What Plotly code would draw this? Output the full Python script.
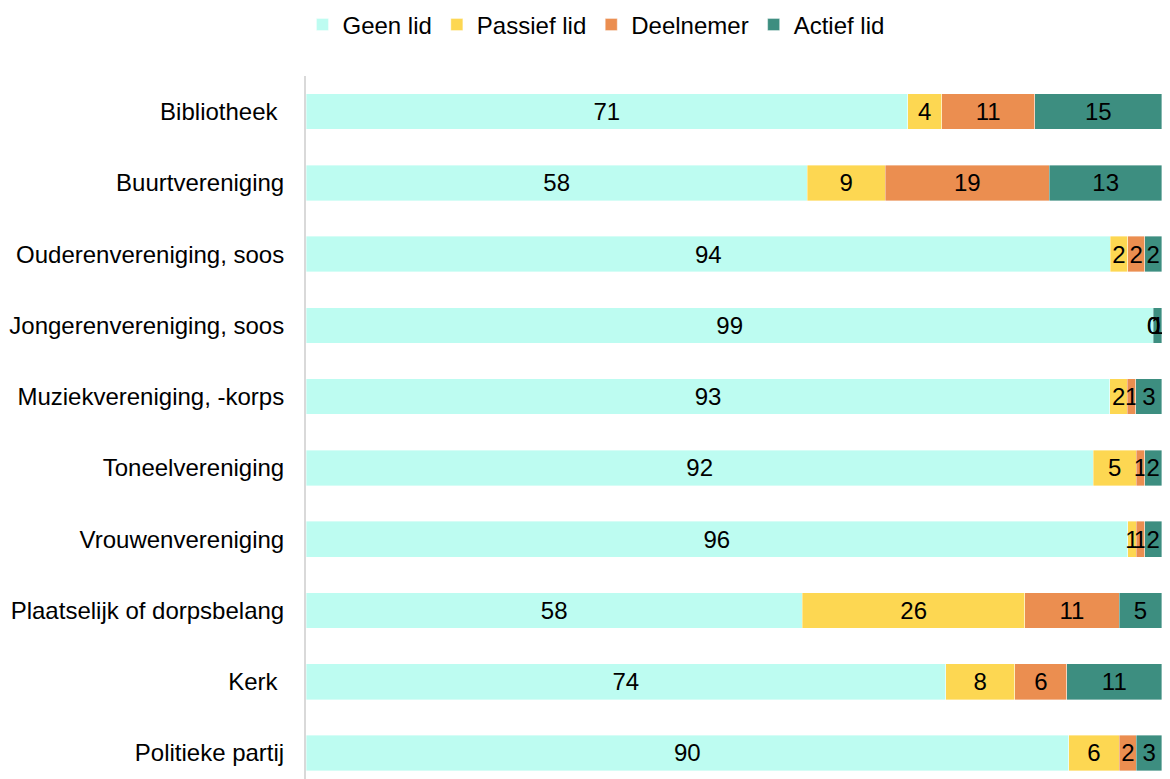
import plotly.graph_objects as go

categories = [
    "Bibliotheek ",
    "Buurtvereniging",
    "Ouderenvereniging, soos",
    "Jongerenvereniging, soos",
    "Muziekvereniging, -korps",
    "Toneelvereniging",
    "Vrouwenvereniging",
    "Plaatselijk of dorpsbelang",
    "Kerk ",
    "Politieke partij",
]

geen_lid = [71, 58, 94, 99, 93, 92, 96, 58, 74, 90]
passief_lid = [4, 9, 2, 0, 2, 5, 1, 26, 8, 6]
deelnemer = [11, 19, 2, 0, 1, 1, 1, 11, 6, 2]
actief_lid = [15, 13, 2, 1, 3, 2, 2, 5, 11, 3]

series = [
    ("Geen lid", geen_lid, "#BDFCF1"),
    ("Passief lid", passief_lid, "#FDD752"),
    ("Deelnemer", deelnemer, "#EB8E50"),
    ("Actief lid", actief_lid, "#3D8E80"),
]

fig = go.Figure()
for name, vals, color in series:
    fig.add_trace(go.Bar(
        y=categories, x=vals, name=name, orientation="h",
        marker=dict(color=color, line=dict(color="rgba(255,255,255,0.5)", width=0.75)),
        text=[str(v) for v in vals], textposition="inside",
        insidetextanchor="middle", cliponaxis=False,
        textfont=dict(color="black", size=24),
    ))

# zero-width segments get no inside text, so label them at their stack position
totals = [sum(s[1][i] for s in series) for i in range(len(categories))]
for i, cat in enumerate(categories):
    cum = 0
    for name, vals, color in series:
        if vals[i] == 0:
            fig.add_annotation(x=cum / totals[i] * 100, y=cat, text="0",
                               showarrow=False, xanchor="center",
                               font=dict(size=24, color="black"))
        cum += vals[i]

# the page body has an 8px margin, so the figure is shifted by 8px
fig.update_layout(
    barmode="stack", barnorm="percent", bargap=0.5,
    width=1154, height=771,
    margin=dict(l=298, r=0, t=68, b=0),
    plot_bgcolor="white", paper_bgcolor="white",
    font=dict(family="Liberation Sans, Arial, sans-serif", size=24, color="black"),
    uniformtext=dict(minsize=24, mode="show"),
    legend=dict(orientation="h", xref="container", x=0.5095, xanchor="center",
                yref="container", y=0.978, yanchor="middle",
                font=dict(size=24), traceorder="normal"),
    showlegend=True,
)
fig.update_xaxes(range=[0, 100.02], showgrid=False, showticklabels=False,
                 zeroline=False, showline=False)
fig.update_yaxes(range=[9.365, -0.5], showgrid=False, showline=True,
                 linecolor="#D9D9D9", linewidth=2, ticks="",
                 ticklabelstandoff=15, tickfont=dict(size=24))

fig.write_html("out.html")
